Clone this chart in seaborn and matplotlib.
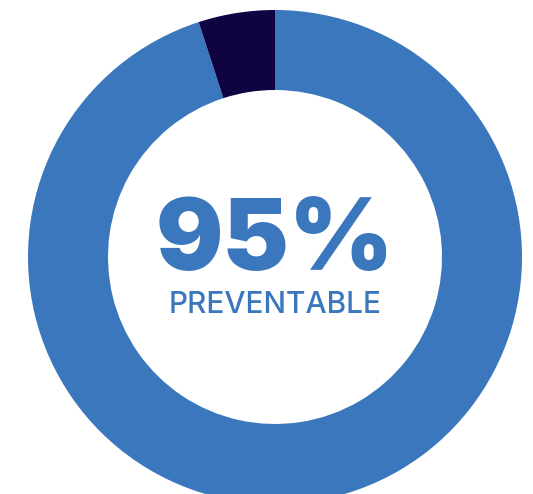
import matplotlib
matplotlib.use("Agg")
import matplotlib.pyplot as plt
import seaborn as sns

labels = ["Preventable", "Not preventable"]
values = [95, 5]
center_value = "95%"
center_label = "PREVENTABLE"

sns.set_style("white")
plt.rcParams['font.family'] = ['Lato', 'DejaVu Sans']
colors = sns.color_palette(["#3b77bc", "#0f0441"])

fig = plt.figure(figsize=(5.33, 4.94), dpi=100)
ax = fig.add_axes([0, 0, 1, 1])

ax.pie(values, colors=colors, startangle=90, counterclock=False,
       center=(275, 237), radius=247,
       wedgeprops=dict(width=80, linewidth=0), frame=True)
ax.set_xlim(0, 533)
ax.set_ylim(0, 494)
ax.set_aspect('equal')
ax.axis('off')

ax.text(275, 224, center_value, ha='center', va='baseline', fontsize=72,
        fontweight=900, family=['Inter', 'DejaVu Sans'], color="#3b77bc")
ax.text(275, 181, center_label, ha='center', va='baseline', fontsize=21.5,
        fontweight=500, family=['Inter', 'DejaVu Sans'], color="#3b77bc")

fig.savefig("out.png", dpi=100)
